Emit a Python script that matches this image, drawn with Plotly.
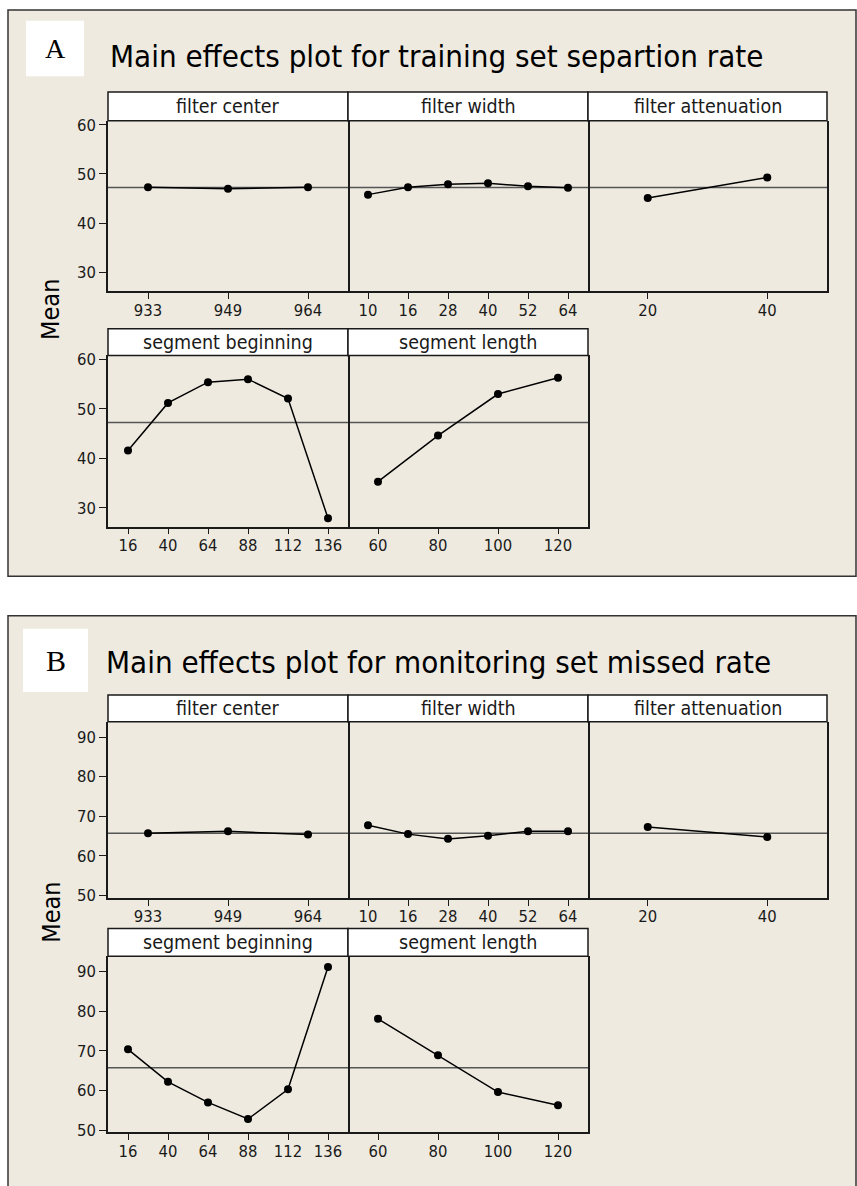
import plotly.graph_objects as go

# ---- factor levels ----
filter_center_levels = ["933", "949", "964"]
filter_width_levels = ["10", "16", "28", "40", "52", "64"]
filter_atten_levels = ["20", "40"]
segment_begin_levels = ["16", "40", "64", "88", "112", "136"]
segment_length_levels = ["60", "80", "100", "120"]

# ---- A: training set separation rate (means) ----
sep_filter_center = [47.3, 47.0, 47.3]
sep_filter_width = [45.8, 47.3, 47.9, 48.1, 47.5, 47.2]
sep_filter_atten = [45.1, 49.3]
sep_segment_begin = [41.6, 51.2, 55.4, 56.0, 52.1, 27.9]
sep_segment_length = [35.3, 44.6, 53.0, 56.3]
sep_grand_mean = 47.25
sep_yticks = [30, 40, 50, 60]

# ---- B: monitoring set missed rate (means) ----
miss_filter_center = [65.75, 66.2, 65.4]
miss_filter_width = [67.75, 65.5, 64.3, 65.1, 66.25, 66.25]
miss_filter_atten = [67.3, 64.75]
miss_segment_begin = [70.4, 62.2, 57.0, 52.8, 60.3, 91.2]
miss_segment_length = [78.1, 68.9, 59.6, 56.3]
miss_grand_mean = 65.75
miss_yticks = [50, 60, 70, 80, 90]

W, H = 857, 1186
FONT = "DejaVu Sans Condensed, DejaVu Sans, sans-serif"
BEIGE = "#EEEAE0"
INK = "#1a1a1a"


def px_x(p):
    return p / W


def px_y(p):
    return 1 - p / H


fig = go.Figure()
shapes = []
annotations = []
layout = {}
axis_counter = [0]


def add_chart(letter, title, letter_box, title_pos, title_size, letter_size,
              rows, y_range, y_ticks, grand_mean, mean_pos):
    # rows: list of (strip_top, plot_top, plot_bottom, panels)
    for strip_top, plot_top, plot_bottom, panels in rows:
        for col, (name, levels, values) in enumerate(panels):
            axis_counter[0] += 1
            k = axis_counter[0]
            xa = "xaxis" if k == 1 else f"xaxis{k}"
            ya = "yaxis" if k == 1 else f"yaxis{k}"
            xr = "x" if k == 1 else f"x{k}"
            yr = "y" if k == 1 else f"y{k}"
            x0 = 108 + 240 * col
            x1 = x0 + 240 if col < 2 else 827
            layout[xa] = dict(
                domain=[px_x(x0), px_x(x1)], anchor=yr, type="category",
                range=[-0.5, len(levels) - 0.5], showgrid=False, zeroline=False,
                showline=True, mirror=False, linecolor=INK, linewidth=1.5,
                ticks="outside", ticklen=6, tickwidth=1, tickcolor=INK,
                tickfont=dict(family=FONT, size=16.5, color=INK),
                ticklabelstandoff=-3, fixedrange=True,
            )
            left = col == 0
            # left panel draws both vertical edges; the others only their right edge
            layout[ya] = dict(
                domain=[px_y(plot_bottom), px_y(plot_top)], anchor=xr,
                range=y_range, showgrid=False, zeroline=False,
                showline=True, mirror=left, side="left" if left else "right",
                linecolor=INK, linewidth=1.5,
                tickvals=y_ticks if left else [], ticks="outside" if left else "",
                ticklen=7, tickwidth=1, tickcolor=INK, showticklabels=left,
                tickfont=dict(family=FONT, size=16.5, color=INK), fixedrange=True,
            )
            # grand mean reference line
            shapes.append(dict(type="line", xref=f"{xr} domain", yref=yr,
                               x0=0, x1=1, y0=grand_mean, y1=grand_mean,
                               line=dict(color="#555555", width=1.5), layer="below"))
            fig.add_trace(go.Scatter(
                x=levels, y=values, xaxis=xr, yaxis=yr, mode="lines+markers",
                line=dict(color="black", width=1.5),
                marker=dict(color="black", size=8), showlegend=False,
                hoverinfo="skip", cliponaxis=False,
            ))
            # strip above the panel
            shapes.append(dict(type="rect", xref="paper", yref="paper",
                               x0=px_x(x0), x1=px_x(x1),
                               y0=px_y(plot_top), y1=px_y(strip_top),
                               fillcolor="white", line=dict(color=INK, width=1.5)))
            annotations.append(dict(
                x=px_x((x0 + x1) / 2), y=px_y((strip_top + plot_top) / 2),
                xref="paper", yref="paper", text=name, showarrow=False,
                xanchor="center", yanchor="middle",
                font=dict(family=FONT, size=19.5, color=INK)))
    # letter box
    lx0, ly0, lx1, ly1 = letter_box
    shapes.append(dict(type="rect", xref="paper", yref="paper",
                       x0=px_x(lx0), x1=px_x(lx1), y0=px_y(ly1), y1=px_y(ly0),
                       fillcolor="white", line=dict(width=0), layer="above"))
    annotations.append(dict(
        x=px_x((lx0 + lx1) / 2), y=px_y((ly0 + ly1) / 2), xref="paper", yref="paper",
        text=letter, showarrow=False, xanchor="center", yanchor="middle",
        font=dict(family="Liberation Serif, Times New Roman, serif",
                  size=letter_size, color="black")))
    # chart title
    annotations.append(dict(
        x=px_x(title_pos[0]), y=px_y(title_pos[1]), xref="paper", yref="paper",
        text=title, showarrow=False, xanchor="left", yanchor="middle",
        font=dict(family=FONT, size=title_size, color="black")))
    # y axis title
    annotations.append(dict(
        x=px_x(mean_pos[0]), y=px_y(mean_pos[1]), xref="paper", yref="paper",
        text="Mean", showarrow=False, textangle=-90, xanchor="center",
        yanchor="middle", font=dict(family=FONT, size=25, color="black")))


# chart backgrounds
shapes.append(dict(type="rect", xref="paper", yref="paper",
                   x0=px_x(8), x1=px_x(856), y0=px_y(577), y1=px_y(5),
                   fillcolor=BEIGE, line=dict(color="#333333", width=1.5),
                   layer="below"))
shapes.append(dict(type="rect", xref="paper", yref="paper",
                   x0=px_x(8), x1=px_x(856), y0=px_y(1195), y1=px_y(617),
                   fillcolor=BEIGE, line=dict(color="#333333", width=1.5),
                   layer="below"))

add_chart(
    "A", "Main effects plot for training set separtion rate",
    (26, 16, 84, 72), (108, 52), 31, 28,
    [
        (88, 117, 289, [("filter center", filter_center_levels, sep_filter_center),
                        ("filter width", filter_width_levels, sep_filter_width),
                        ("filter attenuation", filter_atten_levels, sep_filter_atten)]),
        (327, 354, 527, [("segment beginning", segment_begin_levels, sep_segment_begin),
                         ("segment length", segment_length_levels, sep_segment_length)]),
    ],
    [26.2, 60.8], sep_yticks, sep_grand_mean, (51, 308),
)

add_chart(
    "B", "Main effects plot for monitoring set missed rate",
    (23, 630, 88, 694), (104, 664), 31, 30,
    [
        (697, 724, 902, [("filter center", filter_center_levels, miss_filter_center),
                         ("filter width", filter_width_levels, miss_filter_width),
                         ("filter attenuation", filter_atten_levels, miss_filter_atten)]),
        (933, 961, 1139, [("segment beginning", segment_begin_levels, miss_segment_begin),
                          ("segment length", segment_length_levels, miss_segment_length)]),
    ],
    [49.4, 93.9], miss_yticks, miss_grand_mean, (52, 917),
)

fig.update_layout(
    width=W, height=H, margin=dict(l=0, r=0, t=0, b=0),
    paper_bgcolor="white", plot_bgcolor="white",
    shapes=shapes, annotations=annotations, showlegend=False,
    **layout,
)

fig.write_html("out.html", config={"displayModeBar": False})
